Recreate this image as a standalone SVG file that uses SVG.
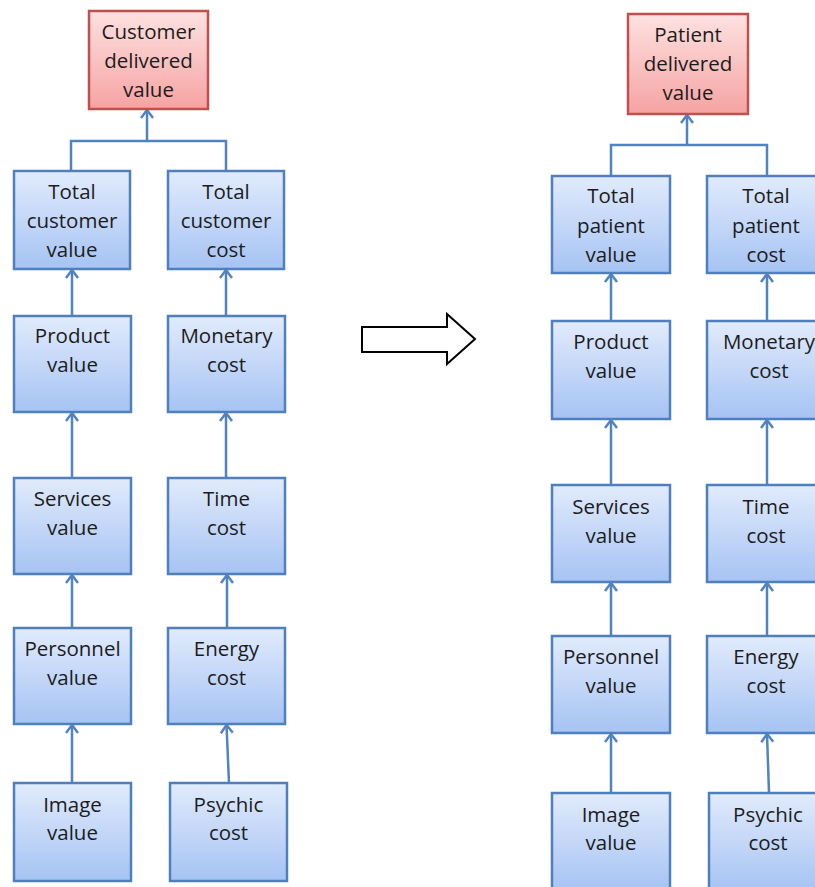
<svg xmlns="http://www.w3.org/2000/svg" width="815" height="887" viewBox="0 0 815 887">
  <defs>
    <linearGradient id="blueFill" x1="0" y1="0" x2="0" y2="1">
      <stop offset="0" stop-color="#e1ebfc"/>
      <stop offset="1" stop-color="#a6c3f3"/>
    </linearGradient>
    <linearGradient id="redFill" x1="0" y1="0" x2="0" y2="1">
      <stop offset="0" stop-color="#fde2e1"/>
      <stop offset="1" stop-color="#f5a3a2"/>
    </linearGradient>
    <marker id="head" markerUnits="userSpaceOnUse" viewBox="-10 -8 12 16" refX="0" refY="0" markerWidth="12" markerHeight="16" orient="auto">
      <path d="M-8,-6 L0,0 L-8,6" fill="none" stroke="#5283c1" stroke-width="2.5" stroke-linejoin="miter"/>
    </marker>
    <style>
      .box { fill: url(#blueFill); stroke: #4f80bd; stroke-width: 2.5; }
      .top { fill: url(#redFill); stroke: #c0504d; stroke-width: 2.5; }
      .lbl { font-family: "Open Sans", "Liberation Sans", sans-serif; font-size: 20.5px; fill: #1c1c1c; text-anchor: middle; }
      .conn { fill: none; stroke: #5283c1; stroke-width: 2.5; }
      .arr { marker-end: url(#head); }
      .big { fill: #ffffff; stroke: #000000; stroke-width: 2; stroke-linejoin: miter; }
    </style>
  </defs>

  <!-- connectors -->
  <g id="connectors">
    <!-- customer side -->
    <path class="conn" d="M71,171 V141 H226 V171"/>
    <path class="conn arr" d="M147,141 V110"/>
    <path class="conn arr" d="M72,316 V270"/>
    <path class="conn arr" d="M226,316 V270"/>
    <path class="conn arr" d="M72,478 V413"/>
    <path class="conn arr" d="M226,478 V413"/>
    <path class="conn arr" d="M72,628 V575"/>
    <path class="conn arr" d="M227,628 V575"/>
    <path class="conn arr" d="M72,783 V725"/>
    <path class="conn arr" d="M229,783 L226.5,725"/>
    <!-- patient side -->
    <path class="conn" d="M611,176 V145 H767 V176"/>
    <path class="conn arr" d="M687,145 V115"/>
    <path class="conn arr" d="M611,321 V274"/>
    <path class="conn arr" d="M767,321 V274"/>
    <path class="conn arr" d="M611,485 V420"/>
    <path class="conn arr" d="M767,485 V420"/>
    <path class="conn arr" d="M611,636 V583"/>
    <path class="conn arr" d="M767,636 V583"/>
    <path class="conn arr" d="M611,793 V734"/>
    <path class="conn arr" d="M769,793 L767,734"/>
  </g>

  <!-- customer delivered value tree -->
  <g id="customer-delivered-value">
    <rect class="top" x="89" y="11" width="119" height="98"/>
    <text class="lbl" x="148.5" y="39">Customer</text>
    <text class="lbl" x="148.5" y="68">delivered</text>
    <text class="lbl" x="148.5" y="97">value</text>
  </g>
  <g id="total-customer-value">
    <rect class="box" x="14" y="171" width="116" height="98"/>
    <text class="lbl" x="72" y="199">Total</text>
    <text class="lbl" x="72" y="228">customer</text>
    <text class="lbl" x="72" y="257">value</text>
  </g>
  <g id="total-customer-cost">
    <rect class="box" x="168" y="171" width="116" height="98"/>
    <text class="lbl" x="226" y="199">Total</text>
    <text class="lbl" x="226" y="228">customer</text>
    <text class="lbl" x="226" y="257">cost</text>
  </g>
  <g id="product-value">
    <rect class="box" x="14" y="316" width="117" height="96"/>
    <text class="lbl" x="72.5" y="343">Product</text>
    <text class="lbl" x="72.5" y="372">value</text>
  </g>
  <g id="monetary-cost">
    <rect class="box" x="168" y="316" width="117" height="96"/>
    <text class="lbl" x="226.5" y="343">Monetary</text>
    <text class="lbl" x="226.5" y="372">cost</text>
  </g>
  <g id="services-value">
    <rect class="box" x="14" y="478" width="117" height="96"/>
    <text class="lbl" x="72.5" y="506">Services</text>
    <text class="lbl" x="72.5" y="535">value</text>
  </g>
  <g id="time-cost">
    <rect class="box" x="168" y="478" width="117" height="96"/>
    <text class="lbl" x="226.5" y="506">Time</text>
    <text class="lbl" x="226.5" y="535">cost</text>
  </g>
  <g id="personnel-value">
    <rect class="box" x="14" y="628" width="117" height="96"/>
    <text class="lbl" x="72.5" y="656">Personnel</text>
    <text class="lbl" x="72.5" y="685">value</text>
  </g>
  <g id="energy-cost">
    <rect class="box" x="168" y="628" width="117" height="96"/>
    <text class="lbl" x="226.5" y="656">Energy</text>
    <text class="lbl" x="226.5" y="685">cost</text>
  </g>
  <g id="image-value">
    <rect class="box" x="14" y="783" width="117" height="98"/>
    <text class="lbl" x="72.5" y="812">Image</text>
    <text class="lbl" x="72.5" y="840">value</text>
  </g>
  <g id="psychic-cost">
    <rect class="box" x="170" y="783" width="117" height="98"/>
    <text class="lbl" x="228.5" y="812">Psychic</text>
    <text class="lbl" x="228.5" y="840">cost</text>
  </g>

  <!-- block arrow between the two trees -->
  <g id="transition-arrow">
    <polygon class="big" points="362,327 447,327 447,314 475,339 447,364 447,352 362,352"/>
  </g>

  <!-- patient delivered value tree -->
  <g id="patient-delivered-value">
    <rect class="top" x="628" y="14" width="120" height="100"/>
    <text class="lbl" x="688" y="42">Patient</text>
    <text class="lbl" x="688" y="71">delivered</text>
    <text class="lbl" x="688" y="100">value</text>
  </g>
  <g id="total-patient-value">
    <rect class="box" x="552" y="176" width="118" height="97"/>
    <text class="lbl" x="611" y="203">Total</text>
    <text class="lbl" x="611" y="233">patient</text>
    <text class="lbl" x="611" y="262">value</text>
  </g>
  <g id="total-patient-cost">
    <rect class="box" x="707" y="176" width="118" height="97"/>
    <text class="lbl" x="766" y="203">Total</text>
    <text class="lbl" x="766" y="233">patient</text>
    <text class="lbl" x="766" y="262">cost</text>
  </g>
  <g id="product-value-patient">
    <rect class="box" x="552" y="321" width="118" height="98"/>
    <text class="lbl" x="611" y="349">Product</text>
    <text class="lbl" x="611" y="378">value</text>
  </g>
  <g id="monetary-cost-patient">
    <rect class="box" x="707" y="321" width="118" height="98"/>
    <text class="lbl" x="769" y="349">Monetary</text>
    <text class="lbl" x="769" y="378">cost</text>
  </g>
  <g id="services-value-patient">
    <rect class="box" x="552" y="485" width="118" height="97"/>
    <text class="lbl" x="611" y="514">Services</text>
    <text class="lbl" x="611" y="543">value</text>
  </g>
  <g id="time-cost-patient">
    <rect class="box" x="707" y="485" width="118" height="97"/>
    <text class="lbl" x="766" y="514">Time</text>
    <text class="lbl" x="766" y="543">cost</text>
  </g>
  <g id="personnel-value-patient">
    <rect class="box" x="552" y="636" width="118" height="97"/>
    <text class="lbl" x="611" y="664">Personnel</text>
    <text class="lbl" x="611" y="693">value</text>
  </g>
  <g id="energy-cost-patient">
    <rect class="box" x="707" y="636" width="118" height="97"/>
    <text class="lbl" x="766" y="664">Energy</text>
    <text class="lbl" x="766" y="693">cost</text>
  </g>
  <g id="image-value-patient">
    <rect class="box" x="552" y="793" width="118" height="98"/>
    <text class="lbl" x="611" y="822">Image</text>
    <text class="lbl" x="611" y="850">value</text>
  </g>
  <g id="psychic-cost-patient">
    <rect class="box" x="709" y="793" width="118" height="98"/>
    <text class="lbl" x="768" y="822">Psychic</text>
    <text class="lbl" x="768" y="850">cost</text>
  </g>
</svg>
